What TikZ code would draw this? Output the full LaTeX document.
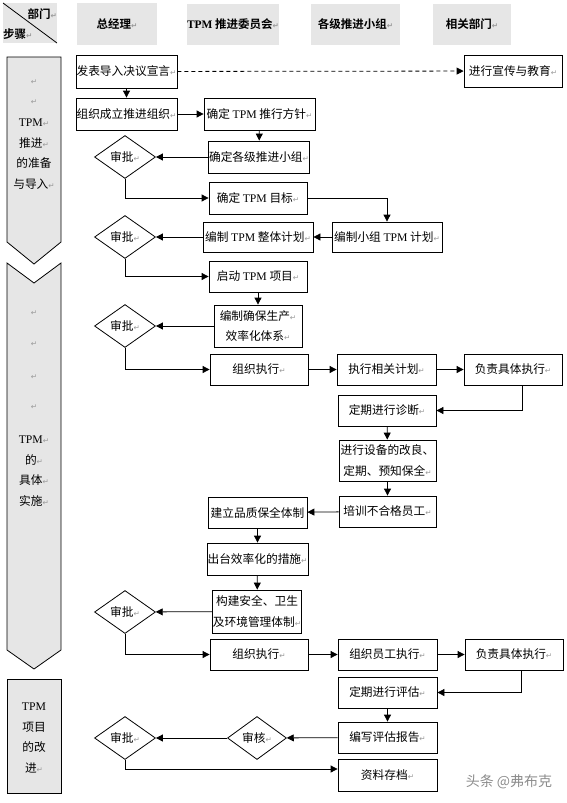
\documentclass[tikz,border=0pt]{standalone}
\usepackage{fontspec}
\setmainfont{Noto Sans CJK SC}[BoldFont={Noto Sans CJK SC Bold}]
\newfontfamily\tnr{Liberation Serif}
\newfontfamily\djv{DejaVu Sans}
\usetikzlibrary{shapes.geometric,arrows.meta}
\definecolor{hdr}{HTML}{E6E6E6}
\definecolor{pmc}{HTML}{999999}
\newcommand\retm{{\djv\fontsize{7.5}{7.5}\selectfont\color{pmc}↵}}
\newcommand\TPM{{\tnr TPM}}
\newcommand\Bx[6]{\node[box,minimum width={#4-#2},minimum height={#5-#3}] (#1) at ({(#2+#4)/2},{(#3+#5)/2}) {#6};}
\tikzset{
  box/.style={draw,line width=0.8pt,inner sep=0.5pt,align=center,font=\fontsize{11.7}{20.5}\selectfont},
  dia/.style={draw,diamond,line width=0.8pt,minimum width=61pt,minimum height=43pt,inner sep=0pt,font=\fontsize{11.7}{13}\selectfont},
  hd/.style={fill=hdr,inner sep=0pt,font=\bfseries\fontsize{11.5}{13}\selectfont},
  side/.style={fill=hdr,draw,line width=0.8pt},
  stxt/.style={align=center,inner sep=0pt,font=\fontsize{11.7}{20.7}\selectfont},
  arr/.style={line width=0.8pt,-{Triangle[length=7pt,width=7pt]}}
}
\begin{document}
\begin{tikzpicture}[x=1pt,y=-1pt]
\useasboundingbox (0,0) rectangle (567,803);
% header
\fill[hdr] (3,3) rectangle (57,43);
\draw[line width=0.8pt] (3,3) -- (57,43);
\node[hd,anchor=east] (hbm) at (57,14) {部门\retm};
\node[hd,anchor=west] (hbb) at (3,34) {步骤\retm};
\node[hd,minimum width=80pt,minimum height=42pt] (h1) at (117,24) {总经理\retm};
\node[hd,minimum width=90pt,minimum height=41pt] (h2) at (233,24.5) {{\tnr\bfseries TPM} 推进委员会\retm};
\node[hd,minimum width=89pt,minimum height=41pt] (h3) at (355.5,24.5) {各级推进小组\retm};
\node[hd,minimum width=78pt,minimum height=41pt] (h4) at (472,24.5) {相关部门\retm};
% left column
\draw[side] (7,57) -- (61,57) -- (61,242) -- (34,264) -- (7,242) -- cycle;
\draw[side] (7,263) -- (34,283) -- (61,263) -- (61,650) -- (34,669) -- (7,650) -- cycle;
\draw[side] (7,679) rectangle (61,793);
\node[stxt] (l1a) at (34,82) {\retm};
\node[stxt] (l1b) at (34,102) {\retm};
\node[stxt] (l1t) at (34,154) {\TPM\retm\\推进\retm\\的准备\\与导入\retm};
\node[stxt] (l2a) at (34,313) {\retm};
\node[stxt] (l2b) at (34,344) {\retm};
\node[stxt] (l2c) at (34,377) {\retm};
\node[stxt] (l2d) at (34,407) {\retm};
\node[stxt] (l2t) at (34,471) {\TPM\retm\\的\retm\\具体\retm\\实施\retm};
\node[stxt] (l3t) at (34,738) {\TPM\\项目\\的改\\进\retm};
% boxes
\Bx{b1}{77}{55}{176}{88}{发表导入决议宣言\retm}
\Bx{b2}{464}{55}{562}{87}{进行宣传与教育\retm}
\Bx{b3}{77}{98}{176}{130}{组织成立推进组织\retm}
\Bx{b4}{204}{98}{315}{130}{确定 \TPM{} 推行方针\retm}
\Bx{b5}{210}{141}{308}{173}{确定各级推进小组\retm}
\Bx{b6}{209}{182}{307}{214}{确定 \TPM{} 目标\retm}
\Bx{b7}{332}{222}{442}{252}{编制小组 \TPM{} 计划\retm}
\Bx{b8}{203}{222}{313}{252}{编制 \TPM{} 整体计划\retm}
\Bx{b9}{209}{261}{307}{292}{启动 \TPM{} 项目\retm}
\Bx{b10}{214}{305}{302}{347}{编制确保生产\retm\\效率化体系\retm}
\Bx{b11}{210}{354}{308}{385}{组织执行\retm}
\Bx{b12}{337}{354}{436}{385}{执行相关计划\retm}
\Bx{b13}{464}{354}{562}{385}{负责具体执行\retm}
\Bx{b14}{338}{395}{436}{426}{定期进行诊断\retm}
\Bx{b15}{339}{440}{436}{481}{进行设备的改良、\\定期、预知保全\retm}
\Bx{b16}{339}{496}{436}{527}{培训不合格员工\retm}
\Bx{b17}{208}{497}{307}{528}{建立品质保全体制}
\Bx{b18}{208}{543}{307}{575}{出台效率化的措施\retm}
\Bx{b19}{213}{590}{301}{633}{构建安全、卫生\\及环境管理体制\retm}
\Bx{b20}{210}{639}{308}{670}{组织执行\retm}
\Bx{b21}{338}{639}{437}{670}{组织员工执行\retm}
\Bx{b22}{465}{639}{563}{670}{负责具体执行\retm}
\Bx{b23}{338}{677}{437}{708}{定期进行评估\retm}
\Bx{b24}{338}{722}{437}{753}{编写评估报告\retm}
\Bx{b25}{338}{759}{437}{791}{资料存档\retm}
% diamonds
\node[dia] (d1) at (125,157) {审批\retm};
\node[dia] (d2) at (125,237) {审批\retm};
\node[dia] (d3) at (125,326) {审批\retm};
\node[dia] (d4) at (125,612) {审批\retm};
\node[dia,minimum width=59pt] (d5) at (257,738) {审核\retm};
\node[dia] (d6) at (125,738) {审批\retm};
% connectors
\draw[arr] (b1) -- (b3);
\draw[arr,dash pattern=on 4pt off 3pt] (b1) -- (b2);
\draw[arr] (b3) -- (b4);
\draw[arr] (b4) -- (b5);
\draw[arr] (b5) -- (d1);
\draw[arr] (d1.south) |- (b6.west);
\draw[arr] (b6.east) -| (b7.north);
\draw[arr] (b7) -- (b8);
\draw[arr] (b8) -- (d2);
\draw[arr] (d2.south) |- (b9.west);
\draw[arr] (b9) -- (b10);
\draw[arr] (b10) -- (d3);
\draw[arr] (d3.south) |- (b11.west);
\draw[arr] (b11) -- (b12);
\draw[arr] (b12) -- (b13);
\draw[arr] ([xshift=9pt]b13.south) |- (b14.east);
\draw[arr] (b14) -- (b15);
\draw[arr] (b15) -- (b16);
\draw[arr] (b16) -- (b17);
\draw[arr] (b17) -- (b18);
\draw[arr] (b18) -- (b19);
\draw[arr] (b19) -- (d4);
\draw[arr] (d4.south) |- (b20.west);
\draw[arr] (b20) -- (b21);
\draw[arr] (b21) -- (b22);
\draw[arr] ([xshift=7pt]b22.south) |- (b23.east);
\draw[arr] (b23) -- (b24);
\draw[arr] (b24) -- (d5);
\draw[arr] (d5) -- (d6);
\draw[arr] (d6.south) |- ([yshift=6pt]b25.west);
% watermark
\node[inner sep=0pt,text=black!45,font=\fontsize{14}{16}\selectfont] (wm) at (509,782) {头条 @弗布克};
\end{tikzpicture}
\end{document}
